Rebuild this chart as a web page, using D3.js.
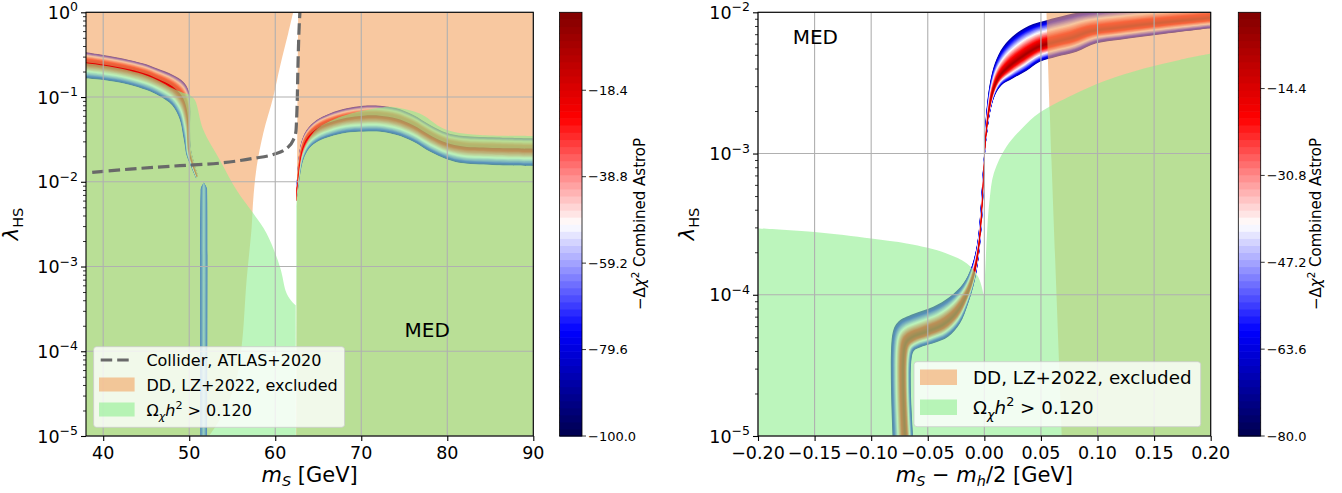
<!DOCTYPE html>
<html><head><meta charset="utf-8">
<script src="https://cdn.jsdelivr.net/npm/d3@7"></script>
<style>
body{margin:0;background:#fff}
text{font-family:"DejaVu Sans",sans-serif;fill:#000}
</style></head><body>
<svg id="chart" width="1342" height="493"></svg>
<script>
// ================= DATA =================
const leftXTicks = [40, 50, 60, 70, 80, 90];
const leftYExp = [0, -1, -2, -3, -4, -5];
const rightXTicks = [-0.20, -0.15, -0.10, -0.05, 0.00, 0.05, 0.10, 0.15, 0.20];
const rightYExp = [-2, -3, -4, -5];
const cbarLeftTicks = [-100.0, -79.6, -59.2, -38.8, -18.4];
const cbarRightTicks = [-80.0, -63.6, -47.2, -30.8, -14.4];
const cbarLeftRange = [-100, 0];
const cbarRightRange = [-80, 0];

// Collider ATLAS+2020 (left panel), [mS, lambda]
const colliderATLAS2020 = [[38.72,0.0129],[43.1,0.0141],[48.9,0.0155],[53.57,0.0166],[57.44,0.0189],[59.77,0.021],[61.32,0.0248],[62.09,0.031],[62.4,0.039],[62.48,0.0535],[62.56,0.092],[62.64,0.228],[62.75,0.565],[62.87,1.0]];

// DD LZ+2022 excluded regions, left panel: curved edge + straight closing corners
const ddLeftAEdge = [[62.09,1],[61.51,0.565],[60.55,0.228],[59.77,0.1],[58.6,0.0372],[57.84,0.015],[57.44,0.0061],[57.26,0.0029],[56.67,6.9e-4],[56.09,1.13e-4],[55.3,4e-5],[53.6,1.6e-5],[52.3,1e-5]];
const ddLeftACorners = [[38,1e-5],[38,1]];
const ddLeftBEdge = [[62.67,1],[62.55,0.01],[62.45,1e-5]];
const ddLeftBCorners = [[90,1e-5],[90,1]];
// Omega h^2 > 0.120 regions, left panel
const omegaLeftAEdge = [[38,0.25],[40,0.235],[43,0.206],[45,0.18],[46.5,0.155],[48,0.128],[49.2,0.113],[50.1,0.105],[50.66,0.092],[51.63,0.041],[53.57,0.018],[55.5,0.008],[57.44,0.00424],[59.0,0.00246],[60.55,0.00099],[61.33,4.8e-4],[62.0,3.8e-4],[62.38,3.5e-4]];
const omegaLeftACorners = [[62.4,1e-5],[38,1e-5]];
const omegaLeftBEdge = [[62.45,0.005],[62.7,0.011],[63.2,0.022],[64.5,0.039],[66.4,0.052],[68.3,0.062],[70.2,0.069],[72.2,0.075],[73.4,0.0769],[76.8,0.064],[79.15,0.0446],[80.7,0.0389],[83.8,0.0356],[90,0.0347]];
const omegaLeftBCorners = [[90,1e-5],[62.45,1e-5]];

// Likelihood band (left panel): paired outer edges
const bandL1Upper = [[38,0.337],[40,0.313],[43,0.274],[45,0.243],[46.2,0.218],[48.1,0.182],[49.3,0.152],[49.9,0.121],[50.1,0.08],[50.1,0.04],[50.2,0.024],[51.0,0.012]];
const bandL1Lower = [[38,0.166],[40,0.159],[43,0.14],[45,0.121],[46.5,0.103],[48,0.08],[48.9,0.054],[49.3,0.034],[49.5,0.026],[49.6,0.022],[49.8,0.019],[50.8,0.011]];
const bandL2Upper = [[51.7,0.0098],[51.35,0.0085],[51.3,0.0072],[51.3,1e-5]];
const bandL2Lower = [[51.7,0.0098],[52.05,0.0085],[52.1,0.0072],[52.1,1e-5]];
const bandL3Upper = [[62.42,0.006],[62.6,0.0137],[63.0,0.0284],[63.65,0.0408],[64.81,0.0535],[66.36,0.0641],[68.3,0.0735],[70.23,0.0789],[72.17,0.0789],[74.1,0.0735],[76.05,0.0613],[78.0,0.0468],[79.9,0.0379],[81.86,0.0347],[85.74,0.0334],[90,0.0325]];
const bandL3Lower = [[62.5,0.006],[62.75,0.0095],[63.26,0.018],[64.0,0.025],[65.0,0.03],[66.36,0.034],[68.3,0.0379],[70.23,0.0389],[72.17,0.0389],[74.1,0.0356],[76.05,0.0297],[78.0,0.0226],[79.9,0.0185],[81.86,0.0165],[85.74,0.0157],[90,0.0153]];

// Right panel
const ddRightEdge = [[0.0549,1e-2],[0.0578,2e-3],[0.0593,9e-4],[0.0685,1e-5]];
const ddRightCorners = [[0.2,1e-5],[0.2,1e-2]];
const omegaRightEdge = [[-0.2,2.95e-4],[-0.15,2.78e-4],[-0.1,2.5e-4],[-0.0687,2.31e-4],[-0.05,2.15e-4],[-0.0334,1.96e-4],[-0.0157,1.67e-4],[-0.0055,1.34e-4],[-0.0016,1.08e-4],[-0.0008,1.0e-4],[0.0004,1.3e-4],[0.0022,2.6e-4],[0.0045,4.6e-4],[0.0085,7.3e-4],[0.0196,1.12e-3],[0.033,1.5e-3],[0.049,1.95e-3],[0.078,2.6e-3],[0.108,3.3e-3],[0.141,4.0e-3],[0.1726,4.6e-3],[0.2,5.1e-3]];
const omegaRightCorners = [[0.2,1e-5],[-0.2,1e-5]];
const bandRUpper = [[-0.0811,1e-5],[-0.0811,5.33e-5],[-0.0761,6.44e-5],[-0.0629,7.3e-5],[-0.0452,8.22e-5],[-0.0305,9.68e-5],[-0.0187,1.2e-4],[-0.0113,1.58e-4],[-0.0063,2.31e-4],[-0.0034,3.98e-4],[-0.0016,6.85e-4],[-0.0002,1.0e-3],[0.0004,1.39e-3],[0.0019,2.03e-3],[0.0049,3.14e-3],[0.0093,4.35e-3],[0.0166,5.7e-3],[0.0284,7.1e-3],[0.0431,8.26e-3],[0.055,8.8e-3],[0.0726,9.57e-3],[0.0843,1.0e-2],[0.12,1.08e-2],[0.16,1.15e-2],[0.2,1.2e-2]];
const bandRLower = [[-0.0629,1e-5],[-0.0629,3.94e-5],[-0.057,4.24e-5],[-0.0452,4.53e-5],[-0.032,5.05e-5],[-0.0216,6.27e-5],[-0.0143,8.69e-5],[-0.0084,1.27e-4],[-0.0046,1.96e-4],[-0.0019,3.56e-4],[-0.0002,6.85e-4],[0.0006,1.0e-3],[0.0024,1.39e-3],[0.0055,2.03e-3],[0.0095,2.6e-3],[0.0152,3.05e-3],[0.0254,3.41e-3],[0.0373,3.86e-3],[0.049,4.46e-3],[0.0638,4.85e-3],[0.0814,5.26e-3],[0.099,6.03e-3],[0.12,6.4e-3],[0.16,7.05e-3],[0.2,7.7e-3]];

// ================= STYLE / LAYOUT =================
const DD_COLOR = "#f4a460", OM_COLOR = "#90ee90", FILL_OP = 0.6;
const GRID = "#b0b0b0";
const seismic = d3.scaleLinear().domain([0,0.25,0.5,0.75,1])
  .range(["#00004d","#0000ff","#ffffff","#ff0000","#800000"]);
const svg = d3.select("#chart");
const TOP = 12.3, BOT = 436;
const smoothLine = d3.line().curve(d3.curveCatmullRom.alpha(0.5));

function lerp(a,b,s){return [a[0]+(b[0]-a[0])*s, a[1]+(b[1]-a[1])*s];}

function makePanel(id, x0, x1, xDomain, yDomain) {
  const x = d3.scaleLinear().domain(xDomain).range([x0, x1]);
  const y = d3.scaleLog().domain(yDomain).range([BOT, TOP]);
  const g = svg.append("g");
  svg.append("clipPath").attr("id", "clip"+id).append("rect")
    .attr("x", x0).attr("y", TOP).attr("width", x1-x0).attr("height", BOT-TOP);
  const plot = g.append("g").attr("clip-path", `url(#clip${id})`);
  return {x, y, g, plot, x0, x1};
}
function px(P, arr){ return arr.map(d=>[P.x(d[0]), P.y(d[1])]); }

// region of a band from its lower edge up to fraction h towards the upper edge (pixel path)
function bandPart(P, upper, lower, h) {
  const U = px(P, upper), L = px(P, lower);
  const top = L.map((l,i)=>lerp(l, U[i], h));
  return smoothLine(L) + smoothLine(top.reverse()).replace(/^M/,"L") + "Z";
}
function drawRegion(P, edge, corners, color, holes) {
  const smooth = d3.line().x(d=>P.x(d[0])).y(d=>P.y(d[1])).curve(d3.curveCatmullRom.alpha(0.5))(edge);
  const rest = corners.map(d=>`L${P.x(d[0])},${P.y(d[1])}`).join("");
  P.plot.append("path").attr("d", smooth + rest + "Z" + (holes||[]).join(""))
    .attr("fill", color).attr("fill-opacity", FILL_OP).attr("fill-rule","evenodd");
}
// nested contour-like levels between two paired edges; peak located at fraction a from upper edge
function drawBand(P, upper, lower, N, a, cLo, cHi, gam) {
  const U = px(P, upper), L = px(P, lower);
  for (let k=0;k<N;k++){
    const f = k/N;
    const su = a*f, sl = (1-a)*f;
    const up = U.map((u,i)=>lerp(u, L[i], su));
    const lo = L.map((l,i)=>lerp(l, U[i], sl)).reverse();
    const t = k/(N-1);
    const c = cLo + (cHi-cLo)*Math.pow(t, gam);
    P.plot.append("path").attr("d", smoothLine(up) + smoothLine(lo).replace(/^M/,"L") + "Z")
      .attr("fill", seismic(c));
  }
}
function drawGrid(P, xt, yt) {
  const gg = P.g.append("g");
  xt.forEach(v=>gg.append("line").attr("x1",P.x(v)).attr("x2",P.x(v)).attr("y1",TOP).attr("y2",BOT)
    .attr("stroke",GRID).attr("stroke-width",1.1));
  yt.forEach(v=>gg.append("line").attr("x1",P.x0).attr("x2",P.x1).attr("y1",P.y(v)).attr("y2",P.y(v))
    .attr("stroke",GRID).attr("stroke-width",1.1));
}
function drawAxes(P, xt, xfmt, yExp) {
  const minors = [];
  const e0 = Math.min(...yExp), e1 = Math.max(...yExp);
  for (let e=e0;e<e1;e++) for (let m=2;m<10;m++) minors.push(m*Math.pow(10,e));
  const ax = P.g.append("g");
  ax.append("g").attr("transform",`translate(${P.x0},0)`)
    .call(d3.axisLeft(P.y).tickValues(minors).tickSize(3).tickFormat(""))
    .call(s=>s.select(".domain").remove()).selectAll("line").attr("stroke-width",0.8);
  ax.append("g").attr("transform",`translate(${P.x0},0)`)
    .call(d3.axisLeft(P.y).tickValues(yExp.map(e=>Math.pow(10,e))).tickSize(5).tickFormat(""))
    .call(s=>s.select(".domain").remove()).selectAll("line").attr("stroke-width",1.1);
  ax.append("g").attr("transform",`translate(0,${BOT})`)
    .call(d3.axisBottom(P.x).tickValues(xt).tickSize(5).tickFormat(""))
    .call(s=>s.select(".domain").remove()).selectAll("line").attr("stroke-width",1.1);
  ax.append("rect").attr("x",P.x0).attr("y",TOP).attr("width",P.x1-P.x0).attr("height",BOT-TOP)
    .attr("fill","none").attr("stroke","#000").attr("stroke-width",1.1);
  xt.forEach(v=>ax.append("text").attr("x",P.x(v)).attr("y",459).attr("text-anchor","middle")
    .attr("font-size",17.5).text(xfmt(v)));
  yExp.forEach(e=>{
    const t = ax.append("text").attr("x",P.x0-8).attr("y",P.y(Math.pow(10,e))+6.5)
      .attr("text-anchor","end").attr("font-size",17.5);
    t.append("tspan").text("10");
    t.append("tspan").attr("font-size",12.5).attr("dy",-7.5).text(e===0?"0":"\u2212"+(-e));
  });
}
function yLabel(xc) {
  const t = svg.append("text").attr("transform",`translate(${xc},224) rotate(-90)`)
    .attr("text-anchor","middle").attr("font-size",21);
  t.append("tspan").attr("font-style","italic").text("λ");
  t.append("tspan").attr("font-size",14.5).attr("dy",4.5).text("HS");
}
function colorbar(cx0, cx1, range, ticks, labelX) {
  const nLev = 60;
  const yc = d3.scaleLinear().domain(range).range([BOT, TOP]);
  const g = svg.append("g");
  const step = (range[1]-range[0])/nLev;
  for (let i=0;i<nLev;i++){
    const v0 = range[0]+i*step, v1 = v0+step;
    g.append("rect").attr("x",cx0).attr("width",cx1-cx0)
      .attr("y",yc(v1)).attr("height",yc(v0)-yc(v1)+0.6)
      .attr("fill", seismic((i+0.5)/nLev));
  }
  g.append("rect").attr("x",cx0).attr("y",TOP).attr("width",cx1-cx0).attr("height",BOT-TOP)
    .attr("fill","none").attr("stroke","#000").attr("stroke-width",0.8);
  ticks.forEach(v=>{
    g.append("line").attr("x1",cx1).attr("x2",cx1+4).attr("y1",yc(v)).attr("y2",yc(v)).attr("stroke","#000").attr("stroke-width",0.8);
    g.append("text").attr("x",cx1+6).attr("y",yc(v)+4.5).attr("font-size",13).text(d3.format(".1f")(v));
  });
  const t = g.append("text").attr("transform",`translate(${labelX},224) rotate(-90)`)
    .attr("text-anchor","middle").attr("font-size",15);
  t.append("tspan").text("\u2212Δ");
  t.append("tspan").attr("font-style","italic").text("χ");
  t.append("tspan").attr("font-size",10.5).attr("dy",-6).text("2");
  t.append("tspan").attr("dy",6).text(" Combined AstroP");
}
function omegaText(t, fs){
  t.append("tspan").text("Ω");
  t.append("tspan").attr("font-style","italic").attr("font-size",fs*0.7).attr("dy",fs*0.25).text("χ");
  t.append("tspan").attr("font-style","italic").attr("dy",-fs*0.25).text("h");
  t.append("tspan").attr("font-size",fs*0.7).attr("dy",-fs*0.42).text("2");
  t.append("tspan").attr("dy",fs*0.42).text(" > 0.120");
}

// ================= LEFT PANEL =================
const PL = makePanel("L", 86, 533.3, [38, 90], [1e-5, 1]);
drawBand(PL, bandL1Upper, bandL1Lower, 22, 0.33, 0.12, 0.85, 0.7);
drawBand(PL, bandL2Upper, bandL2Lower, 10, 0.5, 0.22, 0.42, 1);
drawBand(PL, bandL3Upper, bandL3Lower, 22, 0.33, 0.12, 0.85, 0.7);
drawRegion(PL, ddLeftAEdge, ddLeftACorners, DD_COLOR,
  [bandPart(PL, bandL1Upper, bandL1Lower, 0.62), bandPart(PL, bandL2Upper, bandL2Lower, 1.0)]);
drawRegion(PL, ddLeftBEdge, ddLeftBCorners, DD_COLOR,
  [bandPart(PL, bandL3Upper, bandL3Lower, 0.62)]);
drawRegion(PL, omegaLeftAEdge, omegaLeftACorners, OM_COLOR);
drawRegion(PL, omegaLeftBEdge, omegaLeftBCorners, OM_COLOR);
drawGrid(PL, leftXTicks, leftYExp.map(e=>Math.pow(10,e)));
PL.plot.append("path").datum(colliderATLAS2020)
  .attr("d", d3.line().x(d=>PL.x(d[0])).y(d=>PL.y(d[1])).curve(d3.curveMonotoneX))
  .attr("fill","none").attr("stroke","#696969").attr("stroke-width",3.2).attr("stroke-dasharray","11.5,5");
drawAxes(PL, leftXTicks, d=>String(d), leftYExp);
PL.g.append("text").attr("x",404.6).attr("y",337).attr("font-size",20).text("MED");
{
  const lg = PL.g.append("g");
  lg.append("rect").attr("x",93.6).attr("y",346.7).attr("width",251).attr("height",80.6).attr("rx",3)
    .attr("fill","#fff").attr("fill-opacity",0.8).attr("stroke","#ccc").attr("stroke-opacity",0.8);
  lg.append("line").attr("x1",100.7).attr("x2",133).attr("y1",360).attr("y2",360)
    .attr("stroke","#696969").attr("stroke-width",3.2).attr("stroke-dasharray","11.5,5");
  lg.append("rect").attr("x",99).attr("y",377.5).attr("width",35.6).attr("height",14).attr("fill",DD_COLOR).attr("fill-opacity",FILL_OP);
  lg.append("rect").attr("x",99).attr("y",402.5).attr("width",35.6).attr("height",14).attr("fill",OM_COLOR).attr("fill-opacity",FILL_OP);
  lg.append("text").attr("x",146.4).attr("y",366).attr("font-size",16).text("Collider, ATLAS+2020");
  lg.append("text").attr("x",146.4).attr("y",390.5).attr("font-size",16).text("DD, LZ+2022, excluded");
  omegaText(lg.append("text").attr("x",146.4).attr("y",415.5).attr("font-size",16), 16);
}
yLabel(18);
{
  const t = svg.append("text").attr("x",(86+533.3)/2).attr("y",482).attr("text-anchor","middle").attr("font-size",21);
  t.append("tspan").attr("font-style","italic").text("m");
  t.append("tspan").attr("font-style","italic").attr("font-size",14.5).attr("dy",4).text("S");
  t.append("tspan").attr("dy",-4).text(" [GeV]");
}
colorbar(559.6, 582, cbarLeftRange, cbarLeftTicks, 645);

// ================= RIGHT PANEL =================
const PR = makePanel("R", 758, 1210.7, [-0.2, 0.2], [1e-5, 1e-2]);
drawBand(PR, bandRUpper, bandRLower, 26, 0.62, 0.12, 0.92, 0.9);
drawRegion(PR, ddRightEdge, ddRightCorners, DD_COLOR);
drawRegion(PR, omegaRightEdge, omegaRightCorners, OM_COLOR);
drawGrid(PR, rightXTicks, rightYExp.map(e=>Math.pow(10,e)));
drawAxes(PR, rightXTicks, d3.format(".2f"), rightYExp);
PR.g.append("text").attr("x",792.7).attr("y",44).attr("font-size",20).text("MED");
{
  const lg = PR.g.append("g");
  lg.append("rect").attr("x",914).attr("y",361.7).attr("width",286.7).attr("height",65).attr("rx",3)
    .attr("fill","#fff").attr("fill-opacity",0.8).attr("stroke","#ccc").attr("stroke-opacity",0.8);
  lg.append("rect").attr("x",920).attr("y",369.5).attr("width",37).attr("height",15.5).attr("fill",DD_COLOR).attr("fill-opacity",FILL_OP);
  lg.append("rect").attr("x",920).attr("y",399.5).attr("width",37).attr("height",15.5).attr("fill",OM_COLOR).attr("fill-opacity",FILL_OP);
  lg.append("text").attr("x",973).attr("y",384).attr("font-size",18.3).text("DD, LZ+2022, excluded");
  omegaText(lg.append("text").attr("x",973).attr("y",414).attr("font-size",18.3), 18.3);
}
yLabel(694);
{
  const t = svg.append("text").attr("x",(758+1210.7)/2).attr("y",482).attr("text-anchor","middle").attr("font-size",21);
  t.append("tspan").attr("font-style","italic").text("m");
  t.append("tspan").attr("font-style","italic").attr("font-size",14.5).attr("dy",4).text("S");
  t.append("tspan").attr("dy",-4).text(" \u2212 ");
  t.append("tspan").attr("font-style","italic").text("m");
  t.append("tspan").attr("font-style","italic").attr("font-size",14.5).attr("dy",4).text("h");
  t.append("tspan").attr("dy",-4).text("/2 [GeV]");
}
colorbar(1238.3, 1260.7, cbarRightRange, cbarRightTicks, 1321);
</script>
</body></html>
